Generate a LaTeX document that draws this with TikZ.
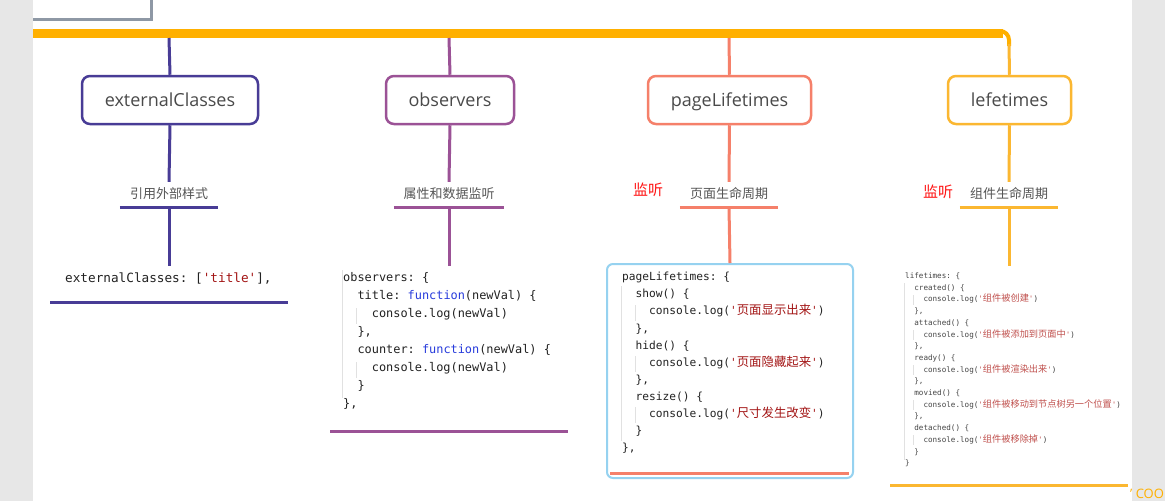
\documentclass[tikz,border=0pt]{standalone}
\usepackage{fontspec}
\setmainfont{Open Sans}
\setmonofont{DejaVu Sans Mono}
\newfontfamily\cjk{Noto Sans CJK SC}
\definecolor{cA}{RGB}{72,60,150}
\definecolor{cB}{RGB}{155,82,150}
\definecolor{cC}{RGB}{245,128,106}
\definecolor{cD}{RGB}{251,183,49}
\definecolor{busc}{RGB}{255,176,0}
\definecolor{skyb}{RGB}{150,210,240}
\definecolor{side}{RGB}{231,231,231}
\definecolor{framec}{RGB}{142,152,165}
\definecolor{lbl}{RGB}{85,85,85}
\definecolor{boxtxt}{RGB}{74,74,74}
\definecolor{kw}{RGB}{40,60,220}
\definecolor{strc}{RGB}{163,21,21}
\definecolor{strl}{RGB}{192,80,77}
\definecolor{codec}{RGB}{34,34,34}
\definecolor{codel}{RGB}{70,70,70}
\definecolor{guide}{RGB}{225,225,225}
\definecolor{redlbl}{RGB}{255,20,20}
\newcommand\ii{\hspace*{1.204em}}
\newcommand\zhC[1]{{\cjk\fontsize{12.4}{17}\selectfont #1}}
\newcommand\zhD[1]{{\cjk\fontsize{9.2}{11.7}\selectfont #1}}
\begin{document}
\begin{tikzpicture}[x=1pt,y=-1pt,
  topic/.style={draw=#1, line width=2.5pt, rounded corners=8pt, fill=white,
    minimum width=176pt, minimum height=48pt, inner sep=0pt,
    text height=13pt, text depth=0pt,
    font=\fontsize{18}{20}\selectfont, text=boxtxt},
  sub/.style={inner sep=0pt, minimum height=27pt, text=lbl,
    font=\cjk\fontsize{13}{15}\selectfont},
  conn/.style={draw=#1, line width=3pt},
  codeA/.style={anchor=north west, inner sep=0pt, align=left, text=codec,
    font=\ttfamily\fontsize{12.7}{18}\selectfont},
  codeB/.style={anchor=north west, inner sep=0pt, align=left, text=codec,
    font=\ttfamily\fontsize{11.9}{18}\selectfont},
  codeC/.style={anchor=north west, inner sep=0pt, align=left, text=codec,
    font=\ttfamily\fontsize{11.2}{17.1}\selectfont},
  codeD/.style={anchor=north west, inner sep=0pt, align=left, text=codel,
    font=\ttfamily\fontsize{7.6}{11.7}\selectfont},
  guideline/.style={draw=guide, line width=1pt},
  redmark/.style={text=redlbl, inner sep=0pt, font=\cjk\fontsize{15}{17}\selectfont}
]
\useasboundingbox (0,0) rectangle (1165,501);
% background
\fill[white] (0,0) rectangle (1165,501);
\fill[side] (0,0) rectangle (33,501);
\fill[side] (1132,0) rectangle (1165,501);
% top-left frame
\draw[framec, line width=3pt] (33,19.5) -- (151.5,19.5) -- (151.5,-2);
% bus
\draw[busc, line width=9pt] (33,33.5) -- (1003,33.5);
\draw[busc, line width=4pt, rounded corners=9pt] (990,31) -| (1009,46);
\coordinate (p1) at (169,38);
\coordinate (p2) at (449,38);
\coordinate (p3) at (729,38);
\coordinate (p4) at (1009,44);

% topic boxes
\node[topic=cA] (b1) at (170,100) {externalClasses};
\node[topic=cB, minimum width=128pt] (b2) at (450,100) {observers};
\node[topic=cC, minimum width=163pt] (b3) at (729.5,100) {pageLifetimes};
\node[topic=cD, minimum width=123pt] (b4) at (1009.5,100) {lefetimes};

% sub labels
\node[sub, minimum width=98pt] (l1) at (169,193.5) {引用外部样式};
\node[sub, minimum width=110pt] (l2) at (449,193.5) {属性和数据监听};
\node[sub, minimum width=98pt] (l3) at (729,193.5) {页面生命周期};
\node[sub, minimum width=98pt] (l4) at (1009,193.5) {组件生命周期};
\node[redmark] (r3) at (648,190) {监听};
\node[redmark] (r4) at (938,192) {监听};

% connectors bus -> box -> label
\draw[conn=cA] (p1) -- (b1.north);
\draw[conn=cB] (p2) -- (b2.north);
\draw[conn=cC] (p3) -- (b3.north);
\draw[conn=cD] (p4) -- (b4.north);
\draw[conn=cA] (b1.south) -- ([yshift=-2pt]l1.north);
\draw[conn=cB] (b2.south) -- ([yshift=-2pt]l2.north);
\draw[conn=cC] (b3.south) -- ([yshift=-2pt]l3.north);
\draw[conn=cD] (b4.south) -- ([yshift=-2pt]l4.north);
\draw[conn=cA] (l1.south west) -- (l1.south east);
\draw[conn=cB] (l2.south west) -- (l2.south east);
\draw[conn=cC] (l3.south west) -- (l3.south east);
\draw[conn=cD] (l4.south west) -- (l4.south east);

% ends of lower connectors
\coordinate (e1) at (169,266);
\coordinate (e2) at (449,266);
\coordinate (e4) at (1009,266);
\draw[conn=cA] (l1.south) -- (e1);
\draw[conn=cB] (l2.south) -- (e2);
\draw[conn=cD] (l4.south) -- (e4);

% page lifetimes box
\node[draw=skyb, line width=2pt, rounded corners=6pt, minimum width=246pt,
  minimum height=214pt, anchor=north west, inner sep=0pt] (pbx) at (606,263) {};
\draw[conn=cC] (l3.south) -- (pbx.north);

% code: externalClasses
\node[codeA] (k1) at (65,273) {externalClasses: [\textcolor{strc}{'title'}],};
\coordinate (u1a) at (50,302);
\coordinate (u1b) at (288,302);
\draw[conn=cA] (u1a) -- (u1b);

% code: observers
\draw[guideline] (342,270) -- (342,398);
\draw[guideline] (356,308) -- (356,324);
\draw[guideline] (356,362) -- (356,378);
\node[codeB] (k2) at (343,272.5) {observers: \{\\
\ii title: \textcolor{kw}{function}(newVal) \{\\
\ii\ii console.log(newVal)\\
\ii \},\\
\ii counter: \textcolor{kw}{function}(newVal) \{\\
\ii\ii console.log(newVal)\\
\ii \}\\
\},};
\coordinate (u2a) at (330,431);
\coordinate (u2b) at (568,431);
\draw[conn=cB] (u2a) -- (u2b);

% code: pageLifetimes
\draw[guideline] (621,286) -- (621,441);
\draw[guideline] (635,305) -- (635,321);
\draw[guideline] (635,356) -- (635,372);
\draw[guideline] (635,407) -- (635,423);
\node[codeC] (k3) at (622,272) {pageLifetimes: \{\\
\ii show() \{\\
\ii\ii console.log(\textcolor{strc}{'\zhC{页面显示出来}'})\\
\ii \},\\
\ii hide() \{\\
\ii\ii console.log(\textcolor{strc}{'\zhC{页面隐藏起来}'})\\
\ii \},\\
\ii resize() \{\\
\ii\ii console.log(\textcolor{strc}{'\zhC{尺寸发生改变}'})\\
\ii \}\\
\},};
\coordinate (u3a) at (610,473);
\coordinate (u3b) at (849,473);
\draw[conn=cC] (u3a) -- (u3b);

% code: lifetimes
\draw[guideline] (904,283) -- (904,460);
\draw[guideline] (913,295) -- (913,305);
\draw[guideline] (913,330) -- (913,340);
\draw[guideline] (913,365) -- (913,375);
\draw[guideline] (913,400) -- (913,410);
\draw[guideline] (913,435) -- (913,445);
\node[codeD] (k4) at (905,272.5) {lifetimes: \{\\
\ii created() \{\\
\ii\ii console.log(\textcolor{strl}{'\zhD{组件被创建}'})\\
\ii \},\\
\ii attached() \{\\
\ii\ii console.log(\textcolor{strl}{'\zhD{组件被添加到页面中}'})\\
\ii \},\\
\ii ready() \{\\
\ii\ii console.log(\textcolor{strl}{'\zhD{组件被渲染出来}'})\\
\ii \},\\
\ii movied() \{\\
\ii\ii console.log(\textcolor{strl}{'\zhD{组件被移动到节点树另一个位置}'})\\
\ii \},\\
\ii detached() \{\\
\ii\ii console.log(\textcolor{strl}{'\zhD{组件被移除掉}'})\\
\ii \}\\
\}};
\coordinate (u4a) at (890,485);
\coordinate (u4b) at (1128,485);
\draw[conn=cD] (u4a) -- (u4b);

% watermark fragment
\node[anchor=west, inner sep=0pt, text=busc, font=\fontsize{13}{15}\selectfont] (wm) at (1130,494) {' COO};
\end{tikzpicture}
\end{document}
